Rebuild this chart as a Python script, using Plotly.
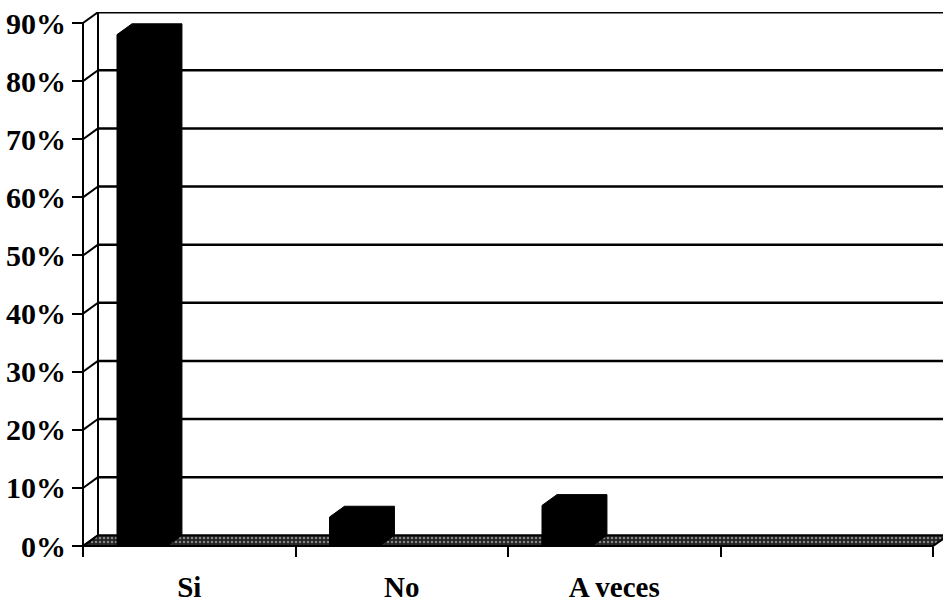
import plotly.graph_objects as go

# ---- data ----
categories = ["Si", "No", "A veces", ""]
values = [88, 5, 7]            # percent
y_ticks = [0, 10, 20, 30, 40, 50, 60, 70, 80, 90]

# ---- 3D look parameters (data units) ----
DX = 0.0706      # depth offset in slots
DY = 1.86        # depth offset in percent
BAR_X0 = 0.16    # bar start inside slot
BAR_W = 0.235    # bar front width
NSLOT = 4

fig = go.Figure()
blk = "black"
LW = 2.5

# back wall gridlines
for v in y_ticks[1:]:
    fig.add_trace(go.Scatter(x=[DX, NSLOT + DX], y=[v + DY, v + DY], mode="lines",
                             line=dict(color=blk, width=LW), hoverinfo="skip", showlegend=False))
# left wall diagonals
for v in y_ticks:
    fig.add_trace(go.Scatter(x=[0, DX], y=[v, v + DY], mode="lines",
                             line=dict(color=blk, width=2), hoverinfo="skip", showlegend=False))
# back wall left edge
fig.add_trace(go.Scatter(x=[DX, DX], y=[DY, y_ticks[-1] + DY], mode="lines",
                         line=dict(color=blk, width=2), hoverinfo="skip", showlegend=False))
# front axis line
fig.add_trace(go.Scatter(x=[0, 0], y=[0, y_ticks[-1]], mode="lines",
                         line=dict(color=blk, width=2), hoverinfo="skip", showlegend=False))

# floor
fig.add_trace(go.Scatter(x=[0, DX, NSLOT + DX, NSLOT, 0], y=[0, DY, DY, 0, 0], mode="lines",
                         fill="toself", fillcolor="#333333",
                         fillpattern=dict(shape=".", fgcolor="#e8e8e8", bgcolor="#222222",
                                          size=4, solidity=0.3),
                         line=dict(color=blk, width=2), hoverinfo="skip", showlegend=False))

# bars
for i, v in enumerate(values):
    x0 = i + BAR_X0
    x1 = x0 + BAR_W
    xs = [x0, x0, x0 + DX, x1 + DX, x1 + DX, x1, x0]
    ys = [0, v, v + DY, v + DY, DY, 0, 0]
    fig.add_trace(go.Scatter(x=xs, y=ys, mode="lines", fill="toself", fillcolor=blk,
                             line=dict(color=blk, width=1), name=categories[i],
                             hoverinfo="skip", showlegend=False))

# ---- layout ----
W, H = 943, 603
ml, mt, mb = 78, 12, 41
plot_w = W - ml
plot_h = H - mt - mb
px_per_slot = 212.5
px_per_pct = 5.92
x_min = -(83 - ml) / px_per_slot
x_max = x_min + plot_w / px_per_slot
y_max = (556 - mt) / px_per_pct
y_min = y_max - plot_h / px_per_pct

font_fam = "Liberation Serif, Times New Roman, serif"

fig.update_layout(
    width=W, height=H,
    margin=dict(l=ml, r=0, t=mt, b=mb, pad=0),
    paper_bgcolor="white", plot_bgcolor="white",
    showlegend=False,
    xaxis=dict(
        range=[x_min, x_max], showgrid=False, zeroline=False, showline=False,
        anchor="free", position=(0 - y_min) / (y_max - y_min),
        tickmode="array", tickvals=[i + 0.5 for i in range(NSLOT)], ticktext=categories,
        ticks="outside", ticklen=15, tickcolor="rgba(0,0,0,0)",
        tickfont=dict(family=font_fam, size=29, color=blk, weight="bold"),
        minor=dict(tickmode="array", tickvals=list(range(NSLOT + 1)), ticks="outside",
                   ticklen=10, tickwidth=2, tickcolor=blk, showgrid=False),
    ),
    yaxis=dict(
        range=[y_min, y_max], showgrid=False, zeroline=False, showline=False,
        anchor="free", position=(0 - x_min) / (x_max - x_min),
        tickmode="array", tickvals=y_ticks, ticktext=[f"{v}%" for v in y_ticks],
        ticks="outside", ticklen=11, tickwidth=2, tickcolor=blk,
        tickfont=dict(family=font_fam, size=30, color=blk, weight="bold"),
    ),
)

fig.write_html("out.html")
